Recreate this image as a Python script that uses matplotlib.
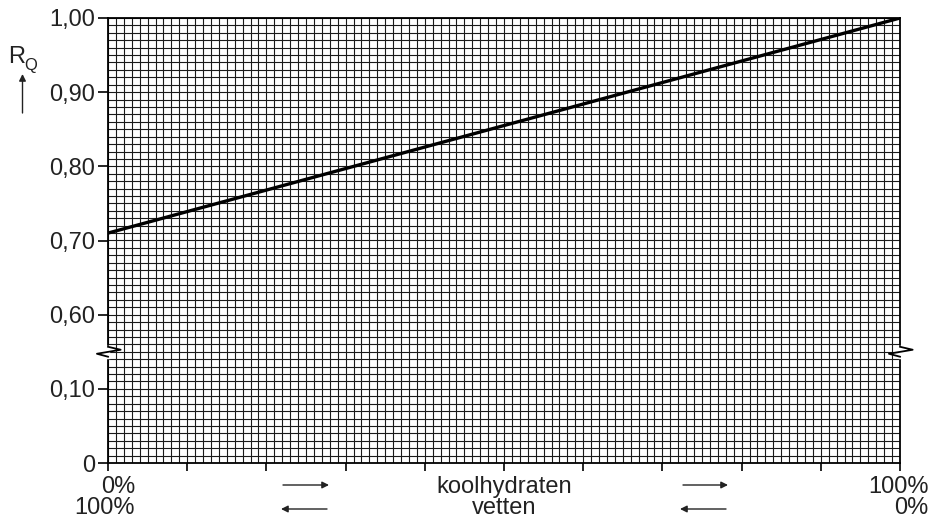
import matplotlib
matplotlib.use("Agg")
import matplotlib.pyplot as plt
import numpy as np

plt.rcParams['font.family'] = ['Liberation Sans', 'DejaVu Sans']

# data
pct_koolhydraten = [0, 100]
rq_values = [0.71, 1.00]
ytick_values = [0.0, 0.10, 0.60, 0.70, 0.80, 0.90, 1.00]
ytick_labels = ["0", "0,10", "0,60", "0,70", "0,80", "0,90", "1,00"]
xtick_values = list(range(0, 101, 10))

BREAK_LOW, BREAK_SHIFT = 0.15, 0.40


def to_disp(v):
    v = np.asarray(v, dtype=float)
    return np.where(v <= BREAK_LOW, v, v - BREAK_SHIFT)


W, H = 932, 519
fig = plt.figure(figsize=(9.32, 5.19), dpi=100)
ax = fig.add_axes([108 / W, 1 - 463 / H, 792 / W, 445 / H])
ax.set_xlim(0, 100)
ax.set_ylim(0, 0.6)

# fine grid
for gx in range(0, 101):
    ax.axvline(gx, color='#1a1a1a', lw=0.8, zorder=1)
for gy in np.arange(0, 0.6001, 0.01):
    ax.axhline(gy, color='#1a1a1a', lw=0.8, zorder=1)

ax.plot(pct_koolhydraten, to_disp(rq_values), color='black', lw=2.4, zorder=3)

for s in ax.spines.values():
    s.set_linewidth(1.3)
    s.set_color('black')
    s.set_zorder(4)

FS = 17
tc = '#222222'
ax.set_yticks(to_disp(ytick_values))
ax.set_yticklabels(ytick_labels, fontsize=FS, color=tc)
ax.set_xticks(xtick_values)
ax.set_xticklabels([])
ax.tick_params(axis='y', direction='out', length=7, width=1.2, pad=2)
ax.tick_params(axis='x', direction='out', length=6, width=1.2)

# break zigzags
bl = 0.15
zx = [0, 1.6, -1.4, 0]
zy = [bl + 0.0067, bl + 0.0027, bl - 0.0027, bl - 0.0067]
for xb in (0, 100):
    ax.plot([xb, xb], [bl - 0.0067, bl + 0.0067], color='white', lw=2.5, clip_on=False, zorder=5)
    ax.plot([xb + v for v in zx], zy, color='black', lw=1.3, clip_on=False, zorder=6)

# bottom texts
def ftext(x, y, s, fs=FS, ha='center'):
    fig.text(x / W, 1 - y / H, s, ha=ha, va='baseline', fontsize=fs, color=tc)

ftext(118, 493, "0%")
ftext(104, 514, "100%")
ftext(898, 493, "100%")
ftext(911, 514, "0%")
ftext(504, 493, "koolhydraten")
ftext(504, 514, "vetten")


def fig_arrow(x0, y0, x1, y1):
    fig.add_artist(matplotlib.patches.FancyArrowPatch(
        (x0 / W, 1 - y0 / H), (x1 / W, 1 - y1 / H), transform=fig.transFigure,
        arrowstyle='-|>', mutation_scale=10, lw=1.0, color=tc, shrinkA=0, shrinkB=0))

fig_arrow(283, 485, 329, 485)
fig_arrow(683, 485, 728, 485)
fig_arrow(327, 509, 281, 509)
fig_arrow(726, 509, 680, 509)

# R_Q label
ftext(8, 63, "R", fs=17, ha='left')
ftext(24, 70, "Q", fs=12, ha='left')
fig_arrow(22.5, 113, 22.5, 74)

fig.savefig("out.png", dpi=100)
